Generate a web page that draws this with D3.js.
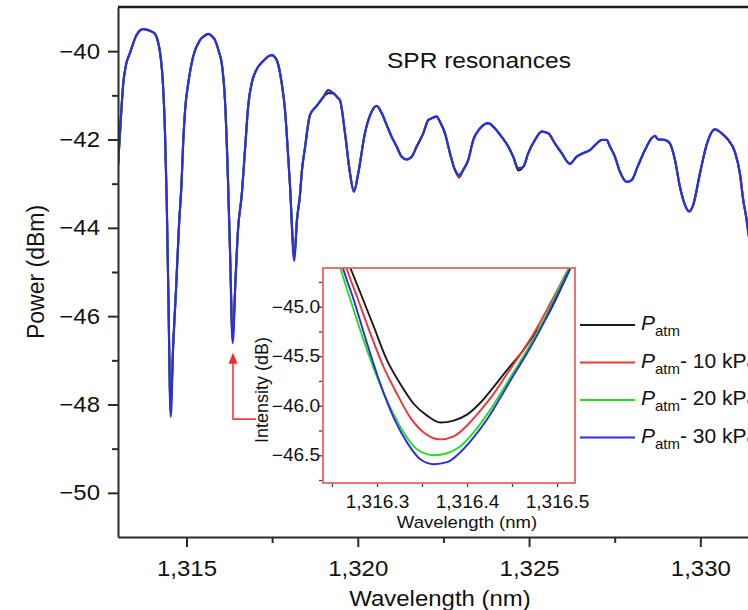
<!DOCTYPE html>
<html>
<head>
<meta charset="utf-8">
<script src="https://cdn.jsdelivr.net/npm/d3@7"></script>
<style>
  html, body { margin: 0; padding: 0; background: #fff; overflow: hidden; }
  svg { display: block; font-family: "Liberation Sans", Arial, Helvetica, sans-serif; }
  .axis path, .axis line { stroke: #2b2b2b; stroke-width: 2; }
  .axis text { fill: #111; font-size: 22px; }
  .inset-axis path { display: none; }
  .inset-axis line { stroke: #444; stroke-width: 1.3; }
  .inset-axis text { fill: #111; font-size: 17.5px; }
</style>
</head>
<body>
<svg id="chart" width="748" height="610"></svg>
<script>
(function () {
  "use strict";

  // main spectrum (blue trace, the others sit on top of it except where noted)
  const mainWl = [1313.000,1313.058,1313.155,1313.234,1313.350,1313.546,1313.738,1313.934,1314.080,1314.168,
    1314.226,1314.284,1314.322,1314.372,1314.422,1314.468,1314.538,1314.605,1314.693,1314.781,
    1314.859,1314.906,1314.970,1315.052,1315.198,1315.393,1315.510,1315.636,1315.744,1315.831,
    1315.948,1316.027,1316.123,1316.202,1316.269,1316.348,1316.430,1316.503,1316.611,1316.707,
    1316.803,1316.911,1316.999,1317.241,1317.486,1317.632,1317.778,1317.875,1317.924,1318.020,
    1318.146,1318.225,1318.312,1318.371,1318.458,1318.604,1318.800,1318.992,1319.138,1319.284,
    1319.421,1319.480,1319.626,1319.772,1319.888,1320.014,1320.210,1320.405,1320.551,1320.697,
    1320.843,1320.989,1321.135,1321.281,1321.427,1321.573,1321.719,1321.911,1322.057,1322.157,
    1322.302,1322.399,1322.545,1322.691,1322.837,1322.962,1323.079,1323.225,1323.371,1323.566,
    1323.809,1324.004,1324.200,1324.392,1324.538,1324.684,1324.830,1324.976,1325.172,1325.367,
    1325.560,1325.755,1325.951,1326.193,1326.389,1326.581,1326.777,1326.973,1327.119,1327.264,
    1327.361,1327.507,1327.653,1327.848,1327.994,1328.187,1328.382,1328.578,1328.674,1328.771,
    1328.966,1329.112,1329.258,1329.404,1329.550,1329.675,1329.792,1329.988,1330.183,1330.426,
    1330.621,1330.814,1331.009,1331.155,1331.252,1331.351,1331.389,1331.593];

  const mainPower = [-42.60,-41.85,-40.72,-40.31,-40.04,-39.63,-39.50,-39.54,-39.61,-39.79,
    -40.02,-40.43,-40.88,-41.85,-43.37,-45.41,-48.28,-46.77,-45.41,-43.94,
    -42.92,-42.01,-41.22,-40.72,-40.11,-39.75,-39.66,-39.61,-39.66,-39.75,
    -40.02,-40.27,-41.11,-42.69,-44.50,-46.61,-45.18,-44.05,-43.26,-42.24,
    -41.22,-40.70,-40.49,-40.22,-40.09,-40.20,-40.72,-41.33,-41.85,-43.03,
    -44.75,-43.82,-43.26,-42.69,-42.19,-41.45,-41.24,-41.04,-40.88,-40.95,
    -41.06,-41.11,-41.85,-42.76,-43.18,-42.76,-41.85,-41.37,-41.24,-41.40,
    -41.67,-41.94,-42.16,-42.39,-42.45,-42.39,-42.16,-41.86,-41.56,-41.52,
    -41.48,-41.60,-41.86,-42.31,-42.69,-42.80,-42.69,-42.46,-42.01,-41.75,
    -41.63,-41.75,-41.94,-42.16,-42.39,-42.65,-42.62,-42.31,-42.01,-41.82,
    -41.86,-42.09,-42.31,-42.55,-42.39,-42.31,-42.24,-42.09,-42.01,-42.01,
    -42.16,-42.39,-42.73,-42.96,-42.92,-42.58,-42.24,-41.97,-41.92,-42.00,
    -42.01,-42.09,-42.46,-43.07,-43.48,-43.63,-43.48,-42.77,-42.12,-41.77,
    -41.86,-42.01,-42.28,-42.77,-43.37,-43.82,-44.05,-44.73];

  // spots where the other traces part from the blue one
  const blackTweaks = [[1314.538,-48.12],[1316.348,-46.47],[1318.146,-44.62],[1319.138,-40.95],[1322.962,-42.86],[1324.684,-42.70]];
  const redTweaks   = [[1314.538,-48.15],[1316.348,-46.50],[1318.146,-44.65],[1322.962,-42.84]];
  const greenTweaks = [[1314.538,-48.22],[1316.348,-46.57],[1318.146,-44.70]];

  // inset (zoom on the 1,316.4 nm dip)
  const insetBlack = [[1316.2640,-44.47],[1316.2704,-44.61],[1316.2815,-44.86],[1316.2963,-45.20],[1316.3111,-45.54],[1316.3259,-45.78],
    [1316.3407,-45.98],[1316.3556,-46.10],[1316.3704,-46.17],[1316.3852,-46.15],[1316.4000,-46.09],[1316.4148,-45.97],
    [1316.4296,-45.81],[1316.4444,-45.64],[1316.4593,-45.48],[1316.4741,-45.29],[1316.4889,-45.10],[1316.5037,-44.83],
    [1316.5148,-44.61],[1316.5200,-44.50]];
  const insetRed = [[1316.2610,-44.47],[1316.2660,-44.61],[1316.2778,-44.90],[1316.2926,-45.27],[1316.3074,-45.61],[1316.3222,-45.88],
    [1316.3370,-46.12],[1316.3519,-46.27],[1316.3704,-46.34],[1316.3852,-46.31],[1316.4000,-46.20],[1316.4148,-46.05],
    [1316.4296,-45.88],[1316.4444,-45.68],[1316.4593,-45.48],[1316.4741,-45.27],[1316.4889,-45.03],[1316.5000,-44.84],
    [1316.5130,-44.61],[1316.5190,-44.50]];
  const insetGreen = [[1316.2550,-44.47],[1316.2593,-44.61],[1316.2704,-44.93],[1316.2852,-45.34],[1316.3000,-45.71],[1316.3148,-46.02],
    [1316.3296,-46.27],[1316.3444,-46.44],[1316.3630,-46.50],[1316.3778,-46.48],[1316.3926,-46.41],[1316.4074,-46.27],
    [1316.4222,-46.09],[1316.4370,-45.88],[1316.4519,-45.66],[1316.4667,-45.44],[1316.4815,-45.20],[1316.4963,-44.93],
    [1316.5130,-44.61],[1316.5190,-44.50]];
  const insetBlue = [[1316.2580,-44.47],[1316.2622,-44.61],[1316.2741,-44.93],[1316.2889,-45.37],[1316.3037,-45.78],[1316.3185,-46.12],
    [1316.3333,-46.37],[1316.3481,-46.54],[1316.3630,-46.59],[1316.3778,-46.57],[1316.3926,-46.47],[1316.4074,-46.32],
    [1316.4222,-46.14],[1316.4370,-45.92],[1316.4519,-45.69],[1316.4667,-45.47],[1316.4815,-45.23],[1316.4963,-44.96],
    [1316.5148,-44.61],[1316.5205,-44.50]];

  const xMajor = [1315, 1320, 1325, 1330];
  const xMinor = [1317.5, 1322.5, 1327.5];
  const yMajor = [-50, -48, -46, -44, -42, -40];
  const yMinor = [-49, -47, -45, -43, -41];
  const insetXMajor = [1316.3, 1316.4, 1316.5];
  const insetXMinor = [1316.25, 1316.35, 1316.45];
  const insetYMajor = [-46.5, -46.0, -45.5, -45.0];
  const insetYMinor = [-46.75, -46.25, -45.75, -45.25, -44.75];

  const seriesColors = ["#1a1a1a", "#ee3434", "#25dc25", "#2b2be8"];
  const legendSuffix = ["", "- 10 kPa", "- 20 kPa", "- 30 kPa"];

  // the source figure is a little wider than tall, so its horizontal type is stretched
  const stretch = 1.09;

  const svg = d3.select("#chart");

  // ---------- main plot ----------
  const L = 118, R = 762, T = 7, B = 537;
  const x = d3.scaleLinear().domain([1313, 1331.8]).range([L, R]);
  const y = d3.scaleLinear().domain([-51, -39]).range([B, T]);

  svg.append("defs").append("clipPath").attr("id", "plot-clip")
    .append("rect").attr("x", L).attr("y", T).attr("width", R - L).attr("height", B - T);

  const withTweaks = tw => {
    const m = new Map(tw.map(d => [d[0], d[1]]));
    return mainWl.map((w, i) => [w, m.has(w) ? m.get(w) : mainPower[i]]);
  };
  const mainSeries = [withTweaks(blackTweaks), withTweaks(redTweaks), withTweaks(greenTweaks), withTweaks([])];

  const line = d3.line().x(d => x(d[0])).y(d => y(d[1])).curve(d3.curveMonotoneX);

  svg.append("g").attr("clip-path", "url(#plot-clip)")
    .selectAll("path").data(mainSeries).join("path")
    .attr("d", line)
    .attr("fill", "none")
    .attr("stroke", (d, i) => seriesColors[i])
    .attr("stroke-width", (d, i) => i === 3 ? 2.2 : 2)
    .attr("stroke-linejoin", "round");

  // axes
  svg.append("g").attr("class", "axis")
    .attr("transform", `translate(0,${B})`)
    .call(d3.axisBottom(x).tickValues(xMajor).tickFormat(d3.format(","))
      .tickSize(10).tickSizeOuter(0).tickPadding(13))
    .selectAll("text").attr("transform", `scale(${stretch},1)`);
  svg.append("g").attr("class", "axis")
    .attr("transform", `translate(0,${B})`)
    .call(d3.axisBottom(x).tickValues(xMinor).tickFormat("").tickSize(6).tickSizeOuter(0))
    .select(".domain").remove();

  svg.append("g").attr("class", "axis")
    .attr("transform", `translate(${L},0)`)
    .call(d3.axisLeft(y).tickValues(yMajor).tickFormat(d3.format("d"))
      .tickSize(10).tickSizeOuter(0).tickPadding(8))
    .selectAll("text")
      .attr("x", -18 / stretch)
      .attr("transform", `scale(${stretch},1)`);
  svg.append("g").attr("class", "axis")
    .attr("transform", `translate(${L},0)`)
    .call(d3.axisLeft(y).tickValues(yMinor).tickFormat("").tickSize(6).tickSizeOuter(0))
    .select(".domain").remove();

  // top and right spines
  svg.append("path")
    .attr("d", `M${L},${T}H${R}V${B}`)
    .attr("fill", "none").attr("stroke", "#1a1a1a").attr("stroke-width", 2.5);

  svg.append("text")
    .attr("transform", `translate(440,606) scale(${stretch},1)`).attr("text-anchor", "middle")
    .style("font-size", "22px").attr("fill", "#111")
    .text("Wavelength (nm)");
  svg.append("text")
    .attr("transform", "translate(44,272) rotate(-90)").attr("text-anchor", "middle")
    .style("font-size", "23px").attr("fill", "#111")
    .text("Power (dBm)");

  svg.append("text")
    .attr("transform", `translate(387,68) scale(${stretch},1)`)
    .style("font-size", "22.5px").attr("fill", "#111")
    .text("SPR resonances");

  // red arrow from the dip to the inset
  const ax = x(1316.357), tipY = y(-46.83), cornerY = y(-48.33), endX = x(1317.03);
  svg.append("path")
    .attr("d", `M${endX},${cornerY}H${ax}V${tipY + 9}`)
    .attr("fill", "none").attr("stroke", "#ee4040").attr("stroke-width", 1.6);
  svg.append("path")
    .attr("d", `M${ax},${tipY}L${ax - 4.5},${tipY + 11}L${ax + 4.5},${tipY + 11}Z`)
    .attr("fill", "#ee2a2a");

  // ---------- inset ----------
  const iL = 323, iR = 575, iT = 268, iB = 483;
  const ix = d3.scaleLinear().domain([1316.24, 1316.52]).range([iL, iR]);
  const iy = d3.scaleLinear().domain([-46.78, -44.61]).range([iB, iT]);

  svg.append("rect")
    .attr("x", iL).attr("y", iT).attr("width", iR - iL).attr("height", iB - iT)
    .attr("fill", "#fff");

  svg.select("defs").append("clipPath").attr("id", "inset-clip")
    .append("rect").attr("x", iL).attr("y", iT).attr("width", iR - iL).attr("height", iB - iT);

  const iline = d3.line().x(d => ix(d[0])).y(d => iy(d[1])).curve(d3.curveMonotoneX);

  svg.append("g").attr("clip-path", "url(#inset-clip)")
    .selectAll("path").data([insetBlack, insetRed, insetGreen, insetBlue]).join("path")
    .attr("d", iline)
    .attr("fill", "none")
    .attr("stroke", (d, i) => seriesColors[i])
    .attr("stroke-width", 1.9);

  svg.append("g").attr("class", "inset-axis")
    .attr("transform", `translate(0,${iB})`)
    .call(d3.axisBottom(ix).tickValues(insetXMajor).tickFormat(d3.format(",.1f"))
      .tickSize(4).tickSizeOuter(0).tickPadding(9))
    .selectAll("text").attr("transform", `scale(${stretch},1)`);
  svg.append("g").attr("class", "inset-axis")
    .attr("transform", `translate(0,${iB})`)
    .call(d3.axisBottom(ix).tickValues(insetXMinor).tickFormat("").tickSize(4).tickSizeOuter(0));
  svg.append("g").attr("class", "inset-axis")
    .attr("transform", `translate(${iL},0)`)
    .call(d3.axisLeft(iy).tickValues(insetYMajor).tickFormat(d3.format(".1f"))
      .tickSize(4).tickSizeOuter(0).tickPadding(0))
    .selectAll("text")
      .attr("x", -3 / stretch)
      .attr("transform", `scale(${stretch},1)`);
  svg.append("g").attr("class", "inset-axis")
    .attr("transform", `translate(${iL},0)`)
    .call(d3.axisLeft(iy).tickValues(insetYMinor).tickFormat("").tickSize(4).tickSizeOuter(0));

  svg.append("rect")
    .attr("x", iL).attr("y", iT).attr("width", iR - iL).attr("height", iB - iT)
    .attr("fill", "none").attr("stroke", "#ea6464").attr("stroke-width", 1.8);

  svg.append("text")
    .attr("transform", `translate(467,528) scale(${stretch},1)`).attr("text-anchor", "middle")
    .style("font-size", "17px").attr("fill", "#111")
    .text("Wavelength (nm)");
  svg.append("text")
    .attr("transform", "translate(268,390) rotate(-90)").attr("text-anchor", "middle")
    .style("font-size", "18px").attr("fill", "#111")
    .text("Intensity (dB)");

  // ---------- legend ----------
  const legend = svg.append("g").attr("transform", "translate(580,325)");
  const item = legend.selectAll("g").data(seriesColors).join("g")
    .attr("transform", (d, i) => `translate(0,${i * 37.5})`);
  item.append("line")
    .attr("x1", 0).attr("x2", 55).attr("y1", 0).attr("y2", 0)
    .attr("stroke", d => d).attr("stroke-width", 2);
  const lt = item.append("text").attr("x", 61).attr("y", 5)
    .attr("fill", "#111").style("font-size", "21px");
  lt.append("tspan").style("font-style", "italic").text("P");
  lt.append("tspan").attr("dy", 6).style("font-size", "15px").text("atm");
  lt.append("tspan").attr("dy", -6).text((d, i) => legendSuffix[i]);
})();
</script>
</body>
</html>
